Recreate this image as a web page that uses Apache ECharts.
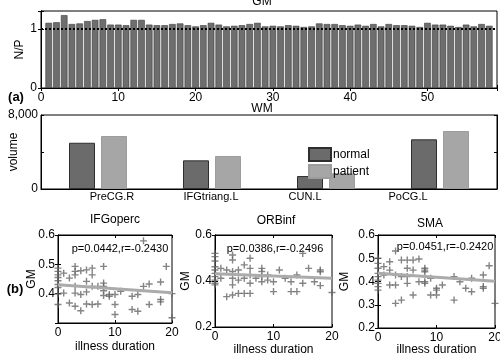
<!DOCTYPE html>
<html>
<head>
<meta charset="utf-8">
<script src="https://cdn.jsdelivr.net/npm/echarts@6/dist/echarts.min.js"></script>
<style>
html, body { margin: 0; padding: 0; background: #fff; }
#chart { width: 500px; height: 354px; }
</style>
</head>
<body>
<div id="chart"></div>
<script>
// (a) GM: N/P ratio per region
var gmRegion = [];
for (var r = 1; r <= 58; r++) gmRegion.push(r)
var gmRatio = [
    1.10, 1.11, 1.23, 1.08, 1.09, 1.13, 1.15, 1.16, 1.07, 1.07,
    1.06, 1.15, 1.15, 1.07, 1.06, 1.06, 1.08, 1.09, 1.06, 1.04,
    1.06, 1.10, 1.07, 1.04, 1.05, 1.06, 1.08, 1.10, 1.04, 1.05,
    1.04, 1.06, 1.05, 1.03, 1.04, 1.09, 1.08, 1.08, 1.06, 1.05,
    1.07, 1.05, 1.08, 1.04, 1.08, 1.06, 1.06, 1.05, 1.03, 1.10,
    1.07, 1.07, 1.05, 1.03, 1.07, 1.04, 1.08, 1.05
]

// (a) WM volume
var wmCategories = ['PreCG.R', 'IFGtriang.L', 'CUN.L', 'PoCG.L']
var wmNormal = [5000, 3100, 1400, 5370]
var wmPatient = [5730, 3570, 1690, 6270]

// (b) GM vs illness duration
var ifgPoints = [
    [0, 0.487], [0, 0.476], [0, 0.464], [0, 0.455], [0, 0.444], [0, 0.431], [0, 0.421], [0, 0.399], [0, 0.363],
    [1, 0.470], [1, 0.402], [2, 0.453], [2, 0.368],
    [3, 0.493], [3, 0.476], [3, 0.464], [3, 0.425], [3, 0.402], [3, 0.357],
    [4, 0.478], [4, 0.397], [4, 0.342], [5, 0.481], [5, 0.442], [5, 0.406], [5, 0.365],
    [6, 0.487], [6, 0.464], [6, 0.425], [6, 0.363], [7, 0.425], [7, 0.365],
    [8, 0.493], [8, 0.436], [8, 0.425], [8, 0.410], [8, 0.394], [9, 0.397], [9, 0.391],
    [10, 0.397], [10, 0.363], [10, 0.329], [11, 0.408], [13, 0.391], [13, 0.346],
    [14, 0.397], [14, 0.340], [15, 0.580], [15, 0.425], [16, 0.433], [16, 0.363],
    [18, 0.440], [18, 0.380], [18, 0.372], [19, 0.493], [20, 0.400], [20, 0.318]
]
var orbPoints = [
    [0, 0.520], [0, 0.506], [0, 0.487], [0, 0.462], [0, 0.448], [0, 0.433], [0, 0.419], [0, 0.404], [0, 0.390], [0, 0.383],
    [1, 0.455], [1, 0.412], [2, 0.448], [2, 0.332],
    [3, 0.513], [3, 0.491], [3, 0.441], [3, 0.412], [3, 0.383], [3, 0.339],
    [4, 0.448], [4, 0.404], [4, 0.346], [5, 0.470], [5, 0.412], [5, 0.346],
    [6, 0.499], [6, 0.455], [6, 0.426], [6, 0.390], [6, 0.346], [7, 0.412],
    [8, 0.455], [8, 0.441], [8, 0.419], [8, 0.397], [9, 0.426], [9, 0.404],
    [10, 0.397], [10, 0.354], [11, 0.448], [12, 0.412], [13, 0.397], [13, 0.354],
    [14, 0.426], [14, 0.354], [15, 0.520], [15, 0.390], [16, 0.455], [17, 0.397],
    [18, 0.448], [18, 0.440], [18, 0.380], [20, 0.350]
]
var smaPoints = [
    [0, 0.500], [0, 0.478], [0, 0.457], [0, 0.435], [0, 0.421], [0, 0.406], [0, 0.392], [0, 0.378], [0, 0.363],
    [1, 0.464], [1, 0.428], [2, 0.485], [2, 0.449], [2, 0.385],
    [3, 0.531], [3, 0.428], [3, 0.385], [3, 0.306], [4, 0.492], [4, 0.421], [4, 0.320],
    [5, 0.492], [5, 0.457], [5, 0.421], [5, 0.392], [6, 0.492], [6, 0.449], [6, 0.342],
    [7, 0.497], [7, 0.399], [8, 0.457], [8, 0.449], [8, 0.442], [8, 0.399], [8, 0.392],
    [9, 0.414], [9, 0.342], [10, 0.371], [10, 0.363], [10, 0.342], [11, 0.385],
    [13, 0.421], [13, 0.320], [14, 0.399], [15, 0.371], [16, 0.414], [16, 0.356],
    [18, 0.428], [18, 0.378], [18, 0.371], [19, 0.468], [20, 0.306]
]
var ifgFit = [[0, 0.430], [20, 0.403]]
var orbFit = [[0, 0.432], [20, 0.412]]
var smaFit = [[0, 0.435], [20, 0.401]]
var statTexts = ['p=0.0442,r=-0.2430', 'p=0.0386,r=-0.2496', 'p=0.0451,r=-0.2420']
var panelTitles = ['IFGoperc', 'ORBinf', 'SMA']

var FONT = 'Liberation Sans, Arial, sans-serif'
var PLUS = 'path://M0,2H2V0H3V2H5V3H3V5H2V3H0Z'

var chart = echarts.init(document.getElementById('chart'))

function valueAxis(grid, min, max, interval, extra) {
    var ax = {
        type: 'value',
        gridIndex: grid,
        min: min,
        max: max,
        interval: interval,
        nameMoveOverlap: false,
        splitLine: { show: false },
        axisLine: { show: true, lineStyle: { color: '#000', width: 1 } },
        axisTick: { show: true, inside: true, length: 3, lineStyle: { color: '#000' } },
        axisLabel: { color: '#000', fontSize: 12, fontFamily: FONT, margin: 4 },
        nameTextStyle: { color: '#000', fontSize: 12, fontFamily: FONT },
    }
    return Object.assign(ax, extra || {})
}

function mirror(ax, pos) {
    return Object.assign({}, ax, {
        position: pos,
        name: '',
        axisLabel: { show: false },
    })
}

function text(x, y, s, size, weight) {
    return {
        type: 'text',
        x: x,
        y: y,
        silent: true,
        style: {
            text: s,
            fill: '#000',
            font: (weight || 'normal') + ' ' + (size || 12) + 'px ' + FONT,
            align: 'center',
            verticalAlign: 'middle',
        },
    }
}

var xGM = valueAxis(0, 0, 59, 10, {
    axisLabel: {
        color: '#000', fontSize: 12, fontFamily: FONT, margin: 4,
        formatter: function (v) { return v % 10 === 0 ? String(v) : '' },
    },
})
var yGM = valueAxis(0, 0, 1.3, 1, {
    name: 'N/P', nameLocation: 'middle', nameGap: 15,
    axisLabel: {
        color: '#000', fontSize: 12, fontFamily: FONT, margin: 4,
        formatter: function (v) { return v === 0 || v === 1 ? String(v) : '' },
    },
})
var xWM = {
    type: 'category',
    gridIndex: 1,
    data: wmCategories,
    axisLine: { show: true, lineStyle: { color: '#000' } },
    axisTick: { show: false },
    axisLabel: { show: false },
}
var yWM = valueAxis(1, 0, 8000, 4000, {
    name: 'volume', nameLocation: 'middle', nameGap: 21,
    axisLabel: {
        color: '#000', fontSize: 12, fontFamily: FONT, margin: 3,
        formatter: function (v) { return v === 0 ? '0' : v === 8000 ? '8,000' : '' },
    },
})

function xScatter(grid, gap) {
    return valueAxis(grid, 0, 20, 10, {
        name: 'illness duration', nameLocation: 'middle', nameGap: gap,
    })
}
function yScatter(grid, min, interval, gap, hideMin) {
    return valueAxis(grid, min, 0.6, interval, {
        name: 'GM', nameLocation: 'middle', nameGap: gap,
        axisLabel: {
            color: '#000', fontSize: 12, fontFamily: FONT, margin: 3,
            formatter: function (v) {
                if (hideMin && Math.abs(v - min) < 1e-6) return ''
                return v.toFixed(1)
            },
        },
    })
}

var xs = [xGM, xWM, xScatter(2, 18), xScatter(3, 17), xScatter(4, 16)]
var ys = [yGM, yWM, yScatter(2, 0.3, 0.1, 20, true), yScatter(3, 0.2, 0.2, 23, false), yScatter(4, 0.2, 0.1, 27, false)]
var xAll = xs.concat([mirror(xGM, 'top'), mirror(xs[2], 'top'), mirror(xs[3], 'top'), mirror(xs[4], 'top')])
var yAll = ys.concat([mirror(yGM, 'right'), mirror(yWM, 'right'), mirror(ys[2], 'right'), mirror(ys[3], 'right'), mirror(ys[4], 'right')])

function scatterSeries(idx, pts) {
    return {
        type: 'scatter',
        xAxisIndex: idx,
        yAxisIndex: idx,
        data: pts,
        symbol: PLUS,
        symbolSize: 7,
        itemStyle: { color: '#656565' },
        z: 2,
    }
}
function fitSeries(idx, pts) {
    return {
        type: 'line',
        xAxisIndex: idx,
        yAxisIndex: idx,
        data: pts,
        symbol: 'none',
        lineStyle: { color: '#ababab', width: 3 },
        z: 3,
    }
}

var graphics = [
    text(262, 2, 'GM', 12),
    text(262, 109, 'WM', 12),
    text(16, 97, '(a)', 13, 'bold'),
    text(15, 289, '(b)', 13, 'bold'),
    text(115, 220, panelTitles[0], 12),
    text(276, 221, panelTitles[1], 12),
    text(430, 224, panelTitles[2], 12),
    text(120, 249, statTexts[0], 11),
    text(275, 249, statTexts[1], 11),
    text(445, 247, statTexts[2], 11),
]
var wmLabelX = [112, 211, 305, 408]
wmCategories.forEach(function (c, i) {
    graphics.push(text(wmLabelX[i], 197, c, 11))
})

var gridBase = { show: true, borderColor: '#000', borderWidth: 1, outerBoundsMode: 'none', containLabel: false }
chart.setOption({
    animation: false,
    backgroundColor: '#fff',
    textStyle: { fontFamily: FONT },
    grid: [
        Object.assign({ left: 41, top: 11, width: 456, height: 77 }, gridBase),
        Object.assign({ left: 41, top: 115, width: 456, height: 74 }, gridBase),
        Object.assign({ left: 58, top: 235, width: 114, height: 88 }, gridBase),
        Object.assign({ left: 215, top: 235, width: 117, height: 92 }, gridBase),
        Object.assign({ left: 378, top: 235, width: 117, height: 93 }, gridBase),
    ],
    legend: {
        left: 308,
        top: 147,
        padding: 0,
        orient: 'vertical',
        icon: 'rect',
        itemWidth: 22,
        itemHeight: 13,
        itemGap: 2,
        data: ['normal', 'patient'],
        textStyle: { color: '#000', fontSize: 12, fontFamily: FONT, padding: [0, 0, 0, -3] },
    },
    xAxis: xAll,
    yAxis: yAll,
    series: [
        {
            name: 'N/P',
            type: 'bar',
            xAxisIndex: 0,
            yAxisIndex: 0,
            data: gmRegion.map(function (r, i) { return [r, gmRatio[i]] }),
            barWidth: 6.6,
            itemStyle: { color: '#6e6e6e', borderColor: '#3a3a3a', borderWidth: 0.6 },
            markLine: {
                silent: true,
                symbol: 'none',
                label: { show: false },
                lineStyle: { color: '#000', type: [2, 2], width: 2 },
                data: [{ yAxis: 1 }],
            },
        },
        {
            name: 'normal',
            type: 'bar',
            xAxisIndex: 1,
            yAxisIndex: 1,
            data: wmNormal,
            barWidth: 26,
            barGap: '23%',
            itemStyle: { color: '#6b6b6b', borderColor: '#2e2e2e', borderWidth: 1 },
        },
        {
            name: 'patient',
            type: 'bar',
            xAxisIndex: 1,
            yAxisIndex: 1,
            data: wmPatient,
            barWidth: 26,
            itemStyle: { color: '#a6a6a6', borderColor: '#9c9c9c', borderWidth: 1 },
        },
        scatterSeries(2, ifgPoints),
        scatterSeries(3, orbPoints),
        scatterSeries(4, smaPoints),
        fitSeries(2, ifgFit),
        fitSeries(3, orbFit),
        fitSeries(4, smaFit),
    ],
    graphic: graphics,
})
</script>
</body>
</html>
